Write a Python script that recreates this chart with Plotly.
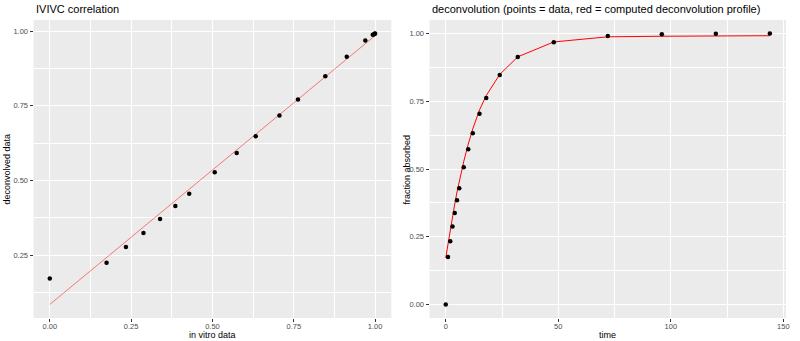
import plotly.graph_objects as go
from plotly.subplots import make_subplots

# Sampling times (h)
times = [0, 1, 2, 3, 4, 5, 6, 8, 10, 12, 15, 18, 24, 32, 48, 72, 96, 120, 144]
# Observed fraction absorbed at each time
fraction_data = [0.0, 0.175, 0.233, 0.288, 0.338, 0.385, 0.429, 0.506, 0.573, 0.632,
                 0.704, 0.762, 0.847, 0.913, 0.968, 0.991, 0.997, 0.999, 1.0]
# Computed deconvolution profile at each time
deconv_profile = [0.172, 0.225, 0.277, 0.324, 0.371, 0.415, 0.456, 0.528, 0.592, 0.648,
                  0.718, 0.771, 0.849, 0.914, 0.969, 0.988, 0.990, 0.991, 0.992]
# In vitro dissolution at each time
in_vitro = [0.0, 0.1745, 0.234, 0.288, 0.339, 0.386, 0.4286, 0.507, 0.5746, 0.633,
            0.706, 0.763, 0.847, 0.913, 0.970, 0.993, 0.997, 0.999, 1.0]
# IVIVC linear model line
fit_x = [0.0, 1.0]
fit_y = [0.085, 0.985]

left_ticks = [0.0, 0.25, 0.50, 0.75, 1.00]
right_xticks = [0, 50, 100, 150]
right_yticks = [0.0, 0.25, 0.50, 0.75, 1.00]

W, H = 800, 341
PANEL_BG = "#EBEBEB"
FONT = "Liberation Sans, Arial, sans-serif"


def expand(vals, mult=0.05):
    lo, hi = min(vals), max(vals)
    pad = (hi - lo) * mult
    return [lo - pad, hi + pad]


fig = make_subplots(rows=1, cols=2, horizontal_spacing=0.05)

fig.add_trace(go.Scatter(x=fit_x, y=fit_y, mode="lines",
                         line=dict(color="rgba(255,0,0,0.5)", width=1),
                         hoverinfo="skip"), row=1, col=1)
fig.add_trace(go.Scatter(x=in_vitro, y=deconv_profile, mode="markers",
                         marker=dict(color="black", size=4.5)), row=1, col=1)

fig.add_trace(go.Scatter(x=times, y=deconv_profile, mode="lines",
                         line=dict(color="red", width=1)), row=1, col=2)
fig.add_trace(go.Scatter(x=times, y=fraction_data, mode="markers",
                         marker=dict(color="black", size=4.5)), row=1, col=2)

top, bottom = 20, 23
ph = H - top - bottom


def px_x(p):
    return p / W


def px_y(p):
    # paper y for a pixel row measured from the top of the page
    return (H - bottom - p) / ph


axis_common = dict(
    showline=False, zeroline=False, showgrid=True, gridcolor="white", gridwidth=1.1,
    ticks="outside", ticklen=3, tickwidth=1, tickcolor="#333333",
    tickfont=dict(family=FONT, size=7.5, color="#4D4D4D"),
    minor=dict(showgrid=True, gridcolor="white", gridwidth=0.5),
)

lx_range = expand(in_vitro + fit_x)
ly_range = expand(deconv_profile + fit_y)
rx_range = expand(times)
ry_range = expand(fraction_data + deconv_profile)

fig.update_xaxes(axis_common, row=1, col=1, range=lx_range, tickvals=left_ticks,
                 tickformat=".2f", minor_dtick=0.125, minor_tick0=0.125,
                 ticklabelstandoff=-2, domain=[px_x(33.7), px_x(393.3)])
fig.update_yaxes(axis_common, row=1, col=1, range=ly_range, tickvals=left_ticks,
                 tickformat=".2f", minor_dtick=0.125, minor_tick0=0.125)
fig.update_xaxes(axis_common, row=1, col=2, range=rx_range, tickvals=right_xticks,
                 minor_dtick=25, minor_tick0=25, ticklabelstandoff=-2,
                 domain=[px_x(431.7), px_x(790)])
fig.update_yaxes(axis_common, row=1, col=2, range=ry_range, tickvals=right_yticks,
                 tickformat=".2f", minor_dtick=0.125, minor_tick0=0.125)

title_font = dict(family=FONT, size=11, color="black")
label_font = dict(family=FONT, size=9, color="black")
annotations = [
    dict(text="IVIVC correlation", x=px_x(33.7), y=px_y(9.5), xanchor="left",
         yanchor="middle", font=title_font),
    dict(text="deconvolution (points = data, red = computed deconvolution profile)",
         x=px_x(431.7), y=px_y(9.5), xanchor="left", yanchor="middle", font=title_font),
    dict(text="in vitro data", x=px_x((33.7 + 393.3) / 2), y=px_y(335), xanchor="center",
         yanchor="middle", font=label_font),
    dict(text="time", x=px_x((431.7 + 790) / 2), y=px_y(335), xanchor="center",
         yanchor="middle", font=label_font),
    dict(text="deconvolved data", x=px_x(7.5), y=0.5, textangle=-90, xanchor="center",
         yanchor="middle", font=label_font),
    dict(text="fraction absorbed", x=px_x(409.5), y=0.5, textangle=-90, xanchor="center",
         yanchor="middle", font=label_font),
]
for a in annotations:
    a.update(xref="paper", yref="paper", showarrow=False)

fig.update_layout(
    width=W, height=H, autosize=False,
    margin=dict(l=0, r=0, t=top, b=bottom, pad=0),
    paper_bgcolor="white", plot_bgcolor=PANEL_BG,
    showlegend=False, annotations=annotations,
    font=dict(family=FONT),
)

fig.write_html("out.html")
